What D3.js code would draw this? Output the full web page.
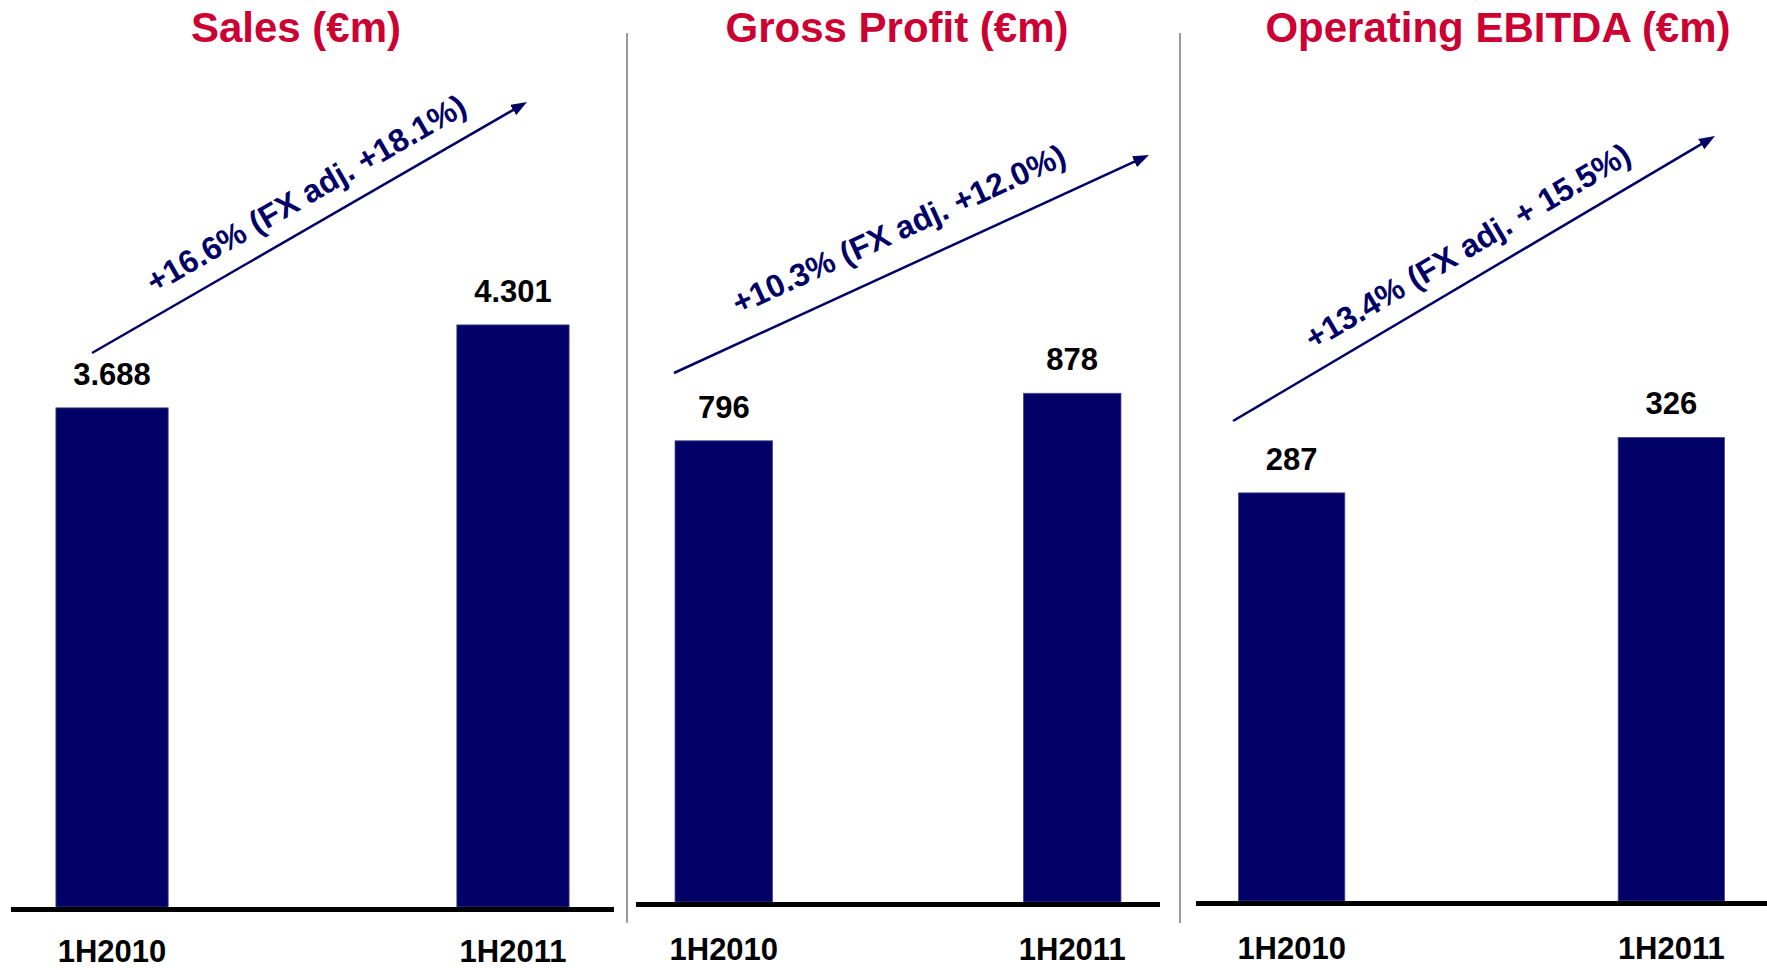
<!DOCTYPE html>
<html>
<head>
<meta charset="utf-8">
<script src="https://cdn.jsdelivr.net/npm/d3@7"></script>
<style>
  body { margin: 0; background: #fff; }
  text { font-family: "Liberation Sans", Arial, sans-serif; font-weight: bold; }
</style>
</head>
<body>
<svg id="chart" width="1767" height="970"></svg>
<script>
// <------------- data ------------->
const categories = ["1H2010", "1H2011"];
const titles = ["Sales (€m)", "Gross Profit (€m)", "Operating EBITDA (€m)"];
const salesValues = [3.688, 4.301];
const grossProfitValues = [796, 878];
const ebitdaValues = [287, 326];
const growthLabels = [
  "+16.6% (FX adj. +18.1%)",
  "+10.3% (FX adj. +12.0%)",
  "+13.4% (FX adj. + 15.5%)",
];
// invisible axis maximum of each panel
const yMaxes = [6.48, 1505, 612.5];
const formats = [d3.format(".3f"), d3.format("d"), d3.format("d")];

// <------------- layout ------------->
const width = 1767;
const height = 970;
const plotTop = 30;
const navy = "#000066";
const red = "#cc0033";

const layout = [
  { x0: 11, x1: 614, base: 907, titleX: 296, arrow: [92, 353, 527, 102], textOff: 20, textShift: 14 },
  { x0: 636, x1: 1160, base: 902, titleX: 897, arrow: [674, 373, 1149, 155], textOff: 26, textShift: 3 },
  { x0: 1196, x1: 1767, base: 901, titleX: 1498, arrow: [1233, 421, 1715, 136], textOff: 20, textShift: 11 },
];

const seriesList = [salesValues, grossProfitValues, ebitdaValues];

const svg = d3.select("#chart");
svg.append("rect").attr("width", width).attr("height", height).attr("fill", "#fff");

svg
  .append("defs")
  .append("marker")
  .attr("id", "head")
  .attr("viewBox", "0 0 16 12")
  .attr("refX", 6)
  .attr("refY", 6)
  .attr("markerWidth", 16)
  .attr("markerHeight", 12)
  .attr("markerUnits", "userSpaceOnUse")
  .attr("orient", "auto")
  .append("path")
  .attr("d", "M0,0 L16,6 L0,12 Z")
  .attr("fill", navy);

// separators between panels
for (let i = 0; i < layout.length - 1; i++) {
  const sx = (layout[i].x1 + layout[i + 1].x0) / 2 + 2;
  svg
    .append("line")
    .attr("x1", sx)
    .attr("x2", sx)
    .attr("y1", 33)
    .attr("y2", 923)
    .attr("stroke", "#9a9a9a")
    .attr("stroke-width", 2);
}

const drawPanel = (values, i) => {
  const L = layout[i];
  const data = categories.map((c, j) => ({ cat: c, value: values[j] }));
  const g = svg.append("g");

  const x = d3
    .scaleBand()
    .domain(categories)
    .range([L.x0, L.x1])
    .paddingInner(0.72)
    .paddingOuter(0.112);
  const y = d3.scaleLinear().domain([0, yMaxes[i]]).range([L.base, plotTop]);

  // title
  g.append("text")
    .attr("x", L.titleX)
    .attr("y", 42)
    .attr("text-anchor", "middle")
    .attr("font-size", 42)
    .attr("fill", red)
    .text(titles[i]);

  // bars
  g.selectAll(".bar")
    .data(data)
    .join("rect")
    .attr("class", "bar")
    .attr("x", (d) => x(d.cat))
    .attr("y", (d) => y(d.value))
    .attr("width", x.bandwidth())
    .attr("height", (d) => y(0) - y(d.value))
    .attr("fill", navy)
    .attr("stroke", "#4a4a8c")
    .attr("stroke-width", 0.8);

  // value labels
  g.selectAll(".val")
    .data(data)
    .join("text")
    .attr("class", "val")
    .attr("x", (d) => x(d.cat) + x.bandwidth() / 2)
    .attr("y", (d) => y(d.value) - 23)
    .attr("text-anchor", "middle")
    .attr("font-size", 31)
    .attr("fill", "#000")
    .text((d) => formats[i](d.value));

  // baseline
  g.append("rect")
    .attr("x", L.x0)
    .attr("y", L.base)
    .attr("width", L.x1 - L.x0)
    .attr("height", 5)
    .attr("fill", "#000");

  // category labels
  g.selectAll(".cat")
    .data(data)
    .join("text")
    .attr("class", "cat")
    .attr("x", (d) => x(d.cat) + x.bandwidth() / 2)
    .attr("y", Math.min(L.base + 58, 962))
    .attr("text-anchor", "middle")
    .attr("font-size", 31)
    .attr("fill", "#000")
    .text((d) => d.cat);

  // growth arrow
  const [ax1, ay1, ax2, ay2] = L.arrow;
  const len = Math.hypot(ax2 - ax1, ay2 - ay1);
  const ux = (ax2 - ax1) / len;
  const uy = (ay2 - ay1) / len;
  g.append("line")
    .attr("x1", ax1)
    .attr("y1", ay1)
    .attr("x2", ax2 - ux * 10)
    .attr("y2", ay2 - uy * 10)
    .attr("stroke", navy)
    .attr("stroke-width", 2.5)
    .attr("marker-end", "url(#head)");

  const angle = (Math.atan2(ay2 - ay1, ax2 - ax1) * 180) / Math.PI;
  const mx = (ax1 + ax2) / 2 + uy * L.textOff + ux * L.textShift;
  const my = (ay1 + ay2) / 2 - ux * L.textOff + uy * L.textShift;
  g.append("text")
    .attr("transform", "translate(" + mx + "," + my + ") rotate(" + angle + ")")
    .attr("text-anchor", "middle")
    .attr("font-size", 32)
    .attr("fill", navy)
    .text(growthLabels[i]);
};

seriesList.forEach((values, i) => drawPanel(values, i));
</script>
</body>
</html>
